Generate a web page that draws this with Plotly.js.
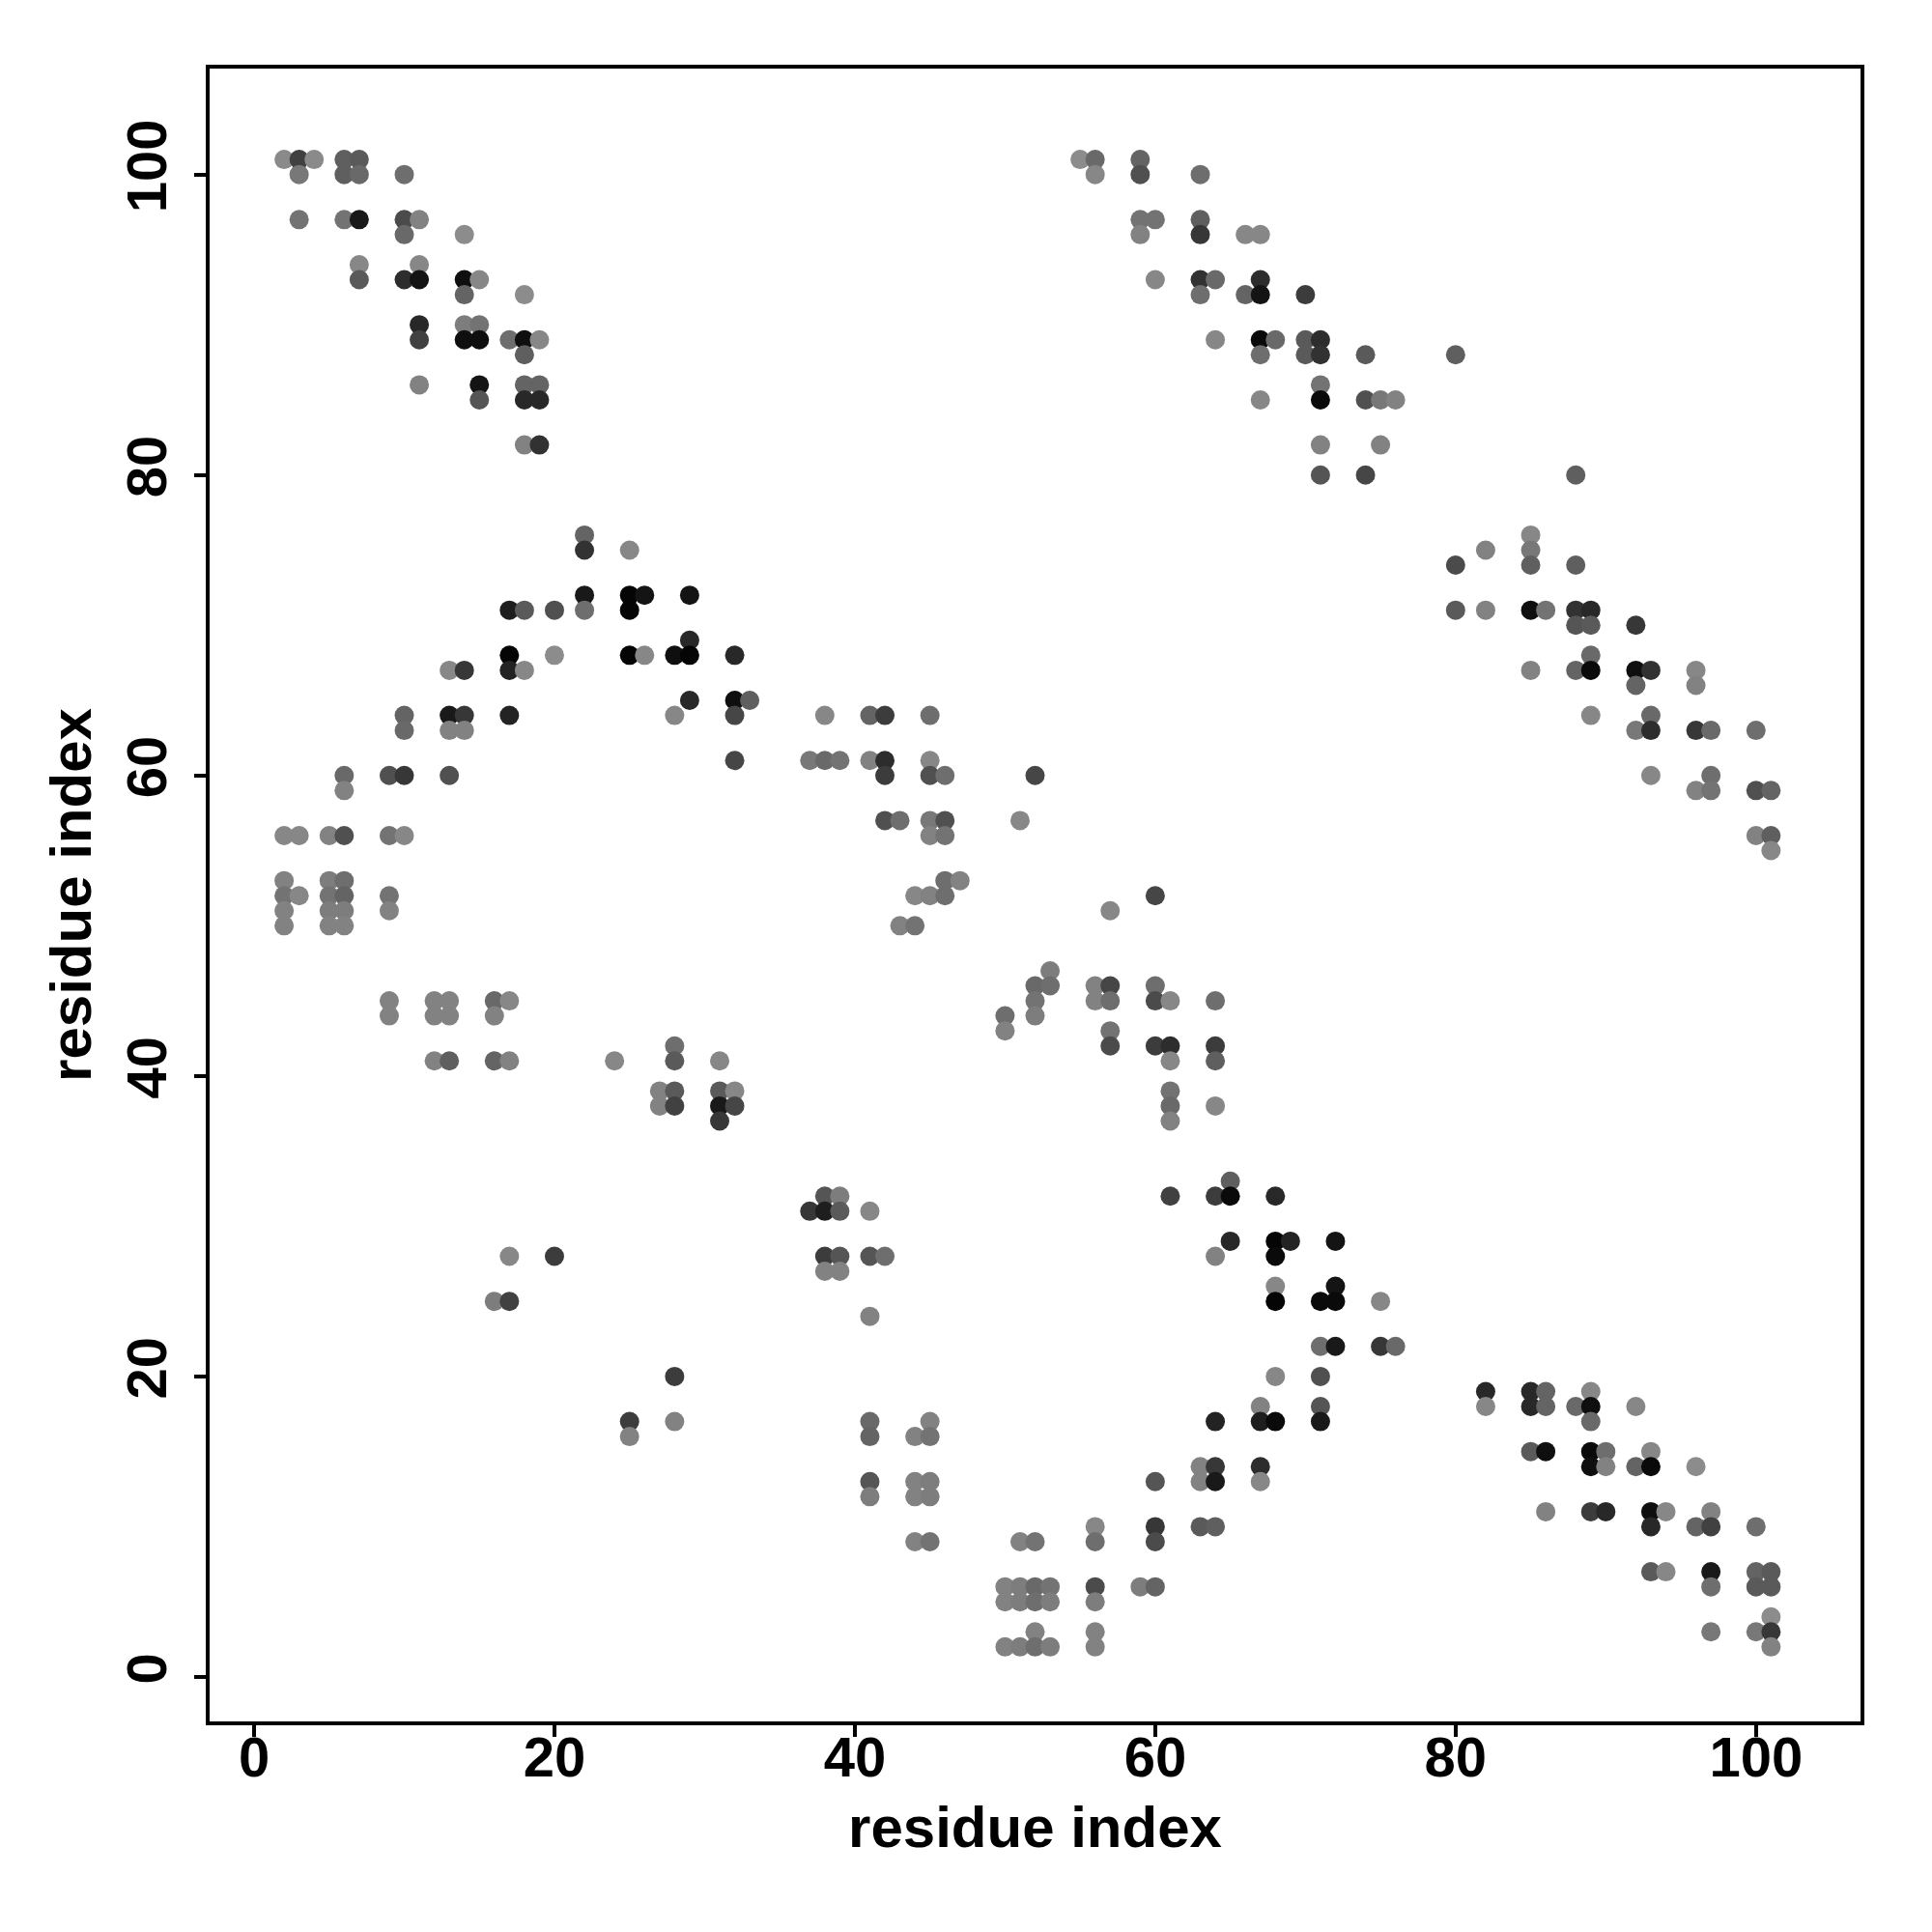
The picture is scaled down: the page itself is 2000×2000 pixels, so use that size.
<!DOCTYPE html>
<html>
<head>
<meta charset="utf-8">
<script src="https://cdn.plot.ly/plotly-3.0.1.min.js"></script>
<style>html,body{margin:0;padding:0;background:#fff;}</style>
</head>
<body>
<div id="chart" style="width:2000px;height:2000px;"></div>
<script>
// Contact map: residue i (x), residue j (y), gray intensity (0 = black, 255 = white)
const resX = [
 2,3,4,6,7, 3,6,7,10, 3,6,7,10,11, 10,14, 7,11, 7,10,11,14,15, 14,18, 11,14,15, 11,14,15,17,18,19, 18, 11,15,18,19, 15,18,19, 18,19,
 55,56,59, 56,59,63, 59,60,63, 59,63,66,67, 60,63,64,67, 63,66,67,70, 64,67,68,70,71, 67,70,71,74,80, 71, 67,71,74,75,76, 71,75, 71,74,88,
 22, 22,25, 22,25,26,29, 17,18,20,22,25, 29, 17,20,25,26,28,29,32, 13,14,17,18, 29,32,33, 10,13,14,17,28,32, 10,13,14, 32, 6,9,10,13, 6,
 2,3,5,6,9,10, 2,5,6, 2,3,5,6,9, 2,5,6,9, 2,5,6,
 9,12,13,16,17, 9,12,13,16, 28, 12,13,16,17,24,28,31, 27,28,31,32, 27,28,31,32, 31, 17,20, 16,17, 28, 25,28, 25,
 38,41,42,45, 37,38,39,41,42,45, 42,45,46,52, 42,43,45,46,51, 45,46, 46,47, 44,45,46,60, 57, 43,44,
 53, 52,53,56,57,60, 52,56,57,60,61,64, 50,52, 50,57, 57,60,61,64, 61,64, 61, 61,64, 61, 65, 61,64,65,68, 38,39, 37,38,39,41,
 65,68,69, 38,39,41,42,64,68, 38,39, 68, 68,
 72,72,71,72,75,
 41, 68, 67, 41,45,64,67,68, 41,44,45, 63,64,67, 41,44,45,60,63,64,67, 41,44,45, 56,60,63,64, 44,45,51,52,56,60,
 50,51,52,53,56,59,60, 50,51,52,53,56, 52,56, 50,51,52,53,56,
 71,72,75,76, 71, 82,85,86,89, 71,82,85,86,88,89,92, 71,89, 85,86,89,90,93, 89,90,92,93,96, 86,89,90,93,94,97,
 93,96,97,100, 93,94,97,100,101, 97,100,101, 101, 97,100,101, 101,
 85, 82,85, 80,85,88, 80,82,85,86,88,89, 88,89,92, 89, 85,88,89,92,93,96, 92,96, 89,93, 92,93,96,97,100, 93,97,
 96,97,100,101, 100,101, 101
];
const resY = [
 101,101,101,101,101, 100,100,100,100, 97,97,97,97,97, 96,96, 94,94, 93,93,93,93,93, 92,92, 90,90,90, 89,89,89,89,89,89, 88, 86,86,86,86, 85,85,85, 82,82,
 101,101,101, 100,100,100, 97,97,97, 96,96,96,96, 93,93,93,93, 92,92,92,92, 89,89,89,89,89, 88,88,88,88,88, 86, 85,85,85,85,85, 82,82, 80,80,80,
 76, 75,75, 72,72,72,72, 71,71,71,71,71, 69, 68,68,68,68,68,68,68, 67,67,67,67, 65,65,65, 64,64,64,64,64,64, 63,63,63, 61, 60,60,60,60, 59,
 56,56,56,56,56,56, 53,53,53, 52,52,52,52,52, 51,51,51,51, 50,50,50,
 45,45,45,45,45, 44,44,44,44, 42, 41,41,41,41,41,41,41, 39,39,39,39, 38,38,38,38, 37, 28,28, 25,25, 20, 17,17, 16,
 64,64,64,64, 61,61,61,61,61,61, 60,60,60,60, 57,57,57,57,57, 56,56, 53,53, 52,52,52,52, 51, 50,50,
 47, 46,46,46,46,46, 45,45,45,45,45,45, 44,44, 43,43, 42,42,42,42, 41,41, 39, 38,38, 37, 33, 32,32,32,32, 32,32, 31,31,31,31,
 29,29,29, 28,28,28,28,28,28, 27,27, 26, 25,
 29,26,25,25,25,
 24, 20, 18, 17,17,17,17,17, 16,16,16, 14,14,14, 13,13,13,13,13,13,13, 12,12,12, 10,10,10,10, 9,9,9,9,9,9,
 6,6,6,6,6,6,6, 5,5,5,5,5, 3,3, 2,2,2,2,2,
 22,22,22,22, 20, 19,19,19,19, 18,18,18,18,18,18,18, 17,17, 15,15,15,15,15, 14,14,14,14,14, 11,11,11,11,11,11,
 10,10,10,10, 7,7,7,7,7, 6,6,6, 4, 3,3,3, 2,
 76, 75,75, 74,74,74, 71,71,71,71,71,71, 70,70,70, 68, 67,67,67,67,67,67, 66,66, 64,64, 63,63,63,63,63, 60,60,
 59,59,59,59, 56,56, 55
];
const grayLevel = [
 138,64,138,95,90, 120,95,105,110, 115,115,25,75,130, 105,140, 135,135, 90,45,20,15,135, 100,140, 40,125,115, 65,15,15,110,15,135, 95, 130,20,100,100, 85,40,40, 130,50,
 140,105,100, 135,80,110, 115,115,95, 130,55,135,135, 135,50,105,45, 110,100,20,60, 135,10,105,90,45, 110,90,50,90,95, 115, 135,10,80,120,130, 130,130, 85,70,95,
 100, 50,135, 25,5,20,20, 30,90,80,110,5, 40, 5,140,5,135,15,5,40, 135,55,35,135, 40,15,95, 100,25,55,35,135,70, 105,130,130, 70, 105,80,55,80, 130,
 135,135,130,80,115,135, 130,125,110, 115,135,115,100,115, 130,125,125,130, 130,130,130,
 130,130,130,105,135, 130,130,130,130, 110, 130,95,100,130,135,90,135, 130,90,90,135, 130,65,25,70, 55, 135,60, 125,65, 60, 60,130, 130,
 135,100,60,110, 120,105,115,130,45,135, 60,80,110,70, 80,110,120,80,135, 130,115, 110,130, 135,130,110,70, 135, 130,115,
 125, 105,110,130,70,110, 115,130,110,75,135,110, 110,125, 130,115, 75,60,45,60, 135,95, 115, 105,135, 130, 95, 65,60,10,40, 85,125, 55,30,90,135,
 40,5,35, 60,85,85,110,130,10, 130,130, 135, 5,
 20,20,10,10,135,
 130, 135, 130, 105,130,35,30,10, 100,130,115, 130,55,45, 85,130,125,85,130,25,135, 125,130,125, 135,55,90,95, 130,115,130,115,110,75,
 130,125,105,115,75,125,100, 130,125,110,125,125, 130,130, 130,125,110,125,130,
 110,25,55,105, 80, 40,40,100,135, 85,135,40,100,105,15,135, 25,105, 90,15,10,110,135, 15,130,100,10,140, 130,60,40,15,135,130,
 40,100,65,110, 90,135,25,100,90, 110,90,90, 140, 120,120,55, 130,
 135, 130,120, 75,95,95, 90,130,15,115,50,40, 85,90,55, 105, 130,100,10,15,50,135, 100,130, 135,105, 120,45,55,105,110, 135,110,
 130,115,80,100, 130,95, 135
];

const colors = grayLevel.map(g => `rgb(${g},${g},${g})`);

const fontFam = 'Liberation Sans, Arial, Helvetica, sans-serif';
const tickVals = [0, 20, 40, 60, 80, 100];

const trace = {
  type: 'scatter',
  mode: 'markers',
  x: resX,
  y: resY,
  marker: { size: 20, color: colors, line: { width: 0 } },
  hoverinfo: 'x+y'
};

const axisCommon = {
  tickvals: tickVals,
  ticks: 'outside',
  ticklen: 12,
  tickwidth: 4,
  tickcolor: '#000',
  showline: true,
  linewidth: 4,
  linecolor: '#000',
  mirror: true,
  showgrid: false,
  zeroline: false,
  tickfont: { family: fontFam, size: 58, weight: 'bold', color: '#000' }
};

const layout = {
  width: 2000,
  height: 2000,
  margin: { l: 217, r: 74, t: 71, b: 218 },
  paper_bgcolor: '#fff',
  plot_bgcolor: '#fff',
  showlegend: false,
  xaxis: Object.assign({}, axisCommon, {
    range: [-2.96, 106.96],
    ticklabelstandoff: -29,
    title: { text: 'residue index', font: { family: fontFam, size: 60, weight: 'bold', color: '#000' }, standoff: 21 }
  }),
  yaxis: Object.assign({}, axisCommon, {
    range: [-2.96, 107.05],
    tickangle: -90,
    ticklabelstandoff: 6,
    title: { text: 'residue index', font: { family: fontFam, size: 60, weight: 'bold', color: '#000' }, standoff: 6 }
  })
};

Plotly.newPlot('chart', [trace], layout, { staticPlot: true, displayModeBar: false });
</script>
</body>
</html>
